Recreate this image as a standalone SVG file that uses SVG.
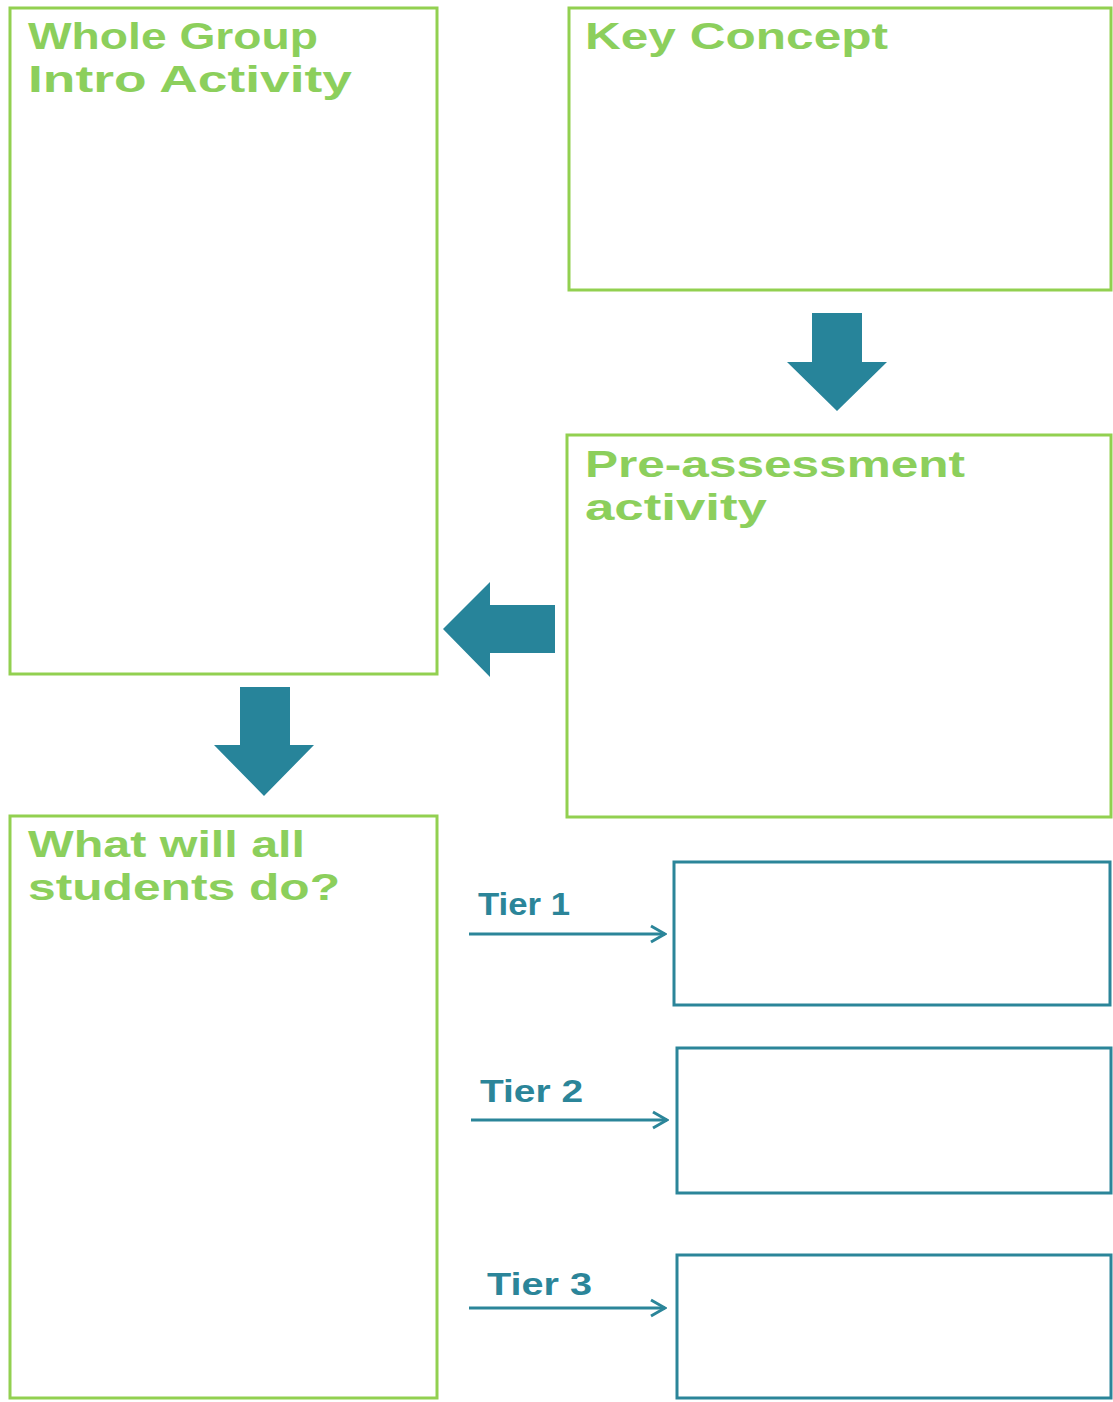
<svg xmlns="http://www.w3.org/2000/svg" width="1113" height="1402" viewBox="0 0 1113 1402">
<style>
.gbox{fill:#fff;stroke:#92d050;stroke-width:3}
.tbox{fill:#fff;stroke:#2b8599;stroke-width:3}
.gt{fill:#8ccf5c;font-family:"Liberation Sans",Arial,sans-serif;font-weight:bold;font-size:36px}
.tt{fill:#2b8599;font-family:"Liberation Sans",Arial,sans-serif;font-weight:bold;font-size:32px}
.big{fill:#27849a}
.ln{stroke:#2b8599;stroke-width:3;fill:none}
</style>
<defs>
<marker id="ah" viewBox="0 0 10 10" refX="9" refY="5" markerWidth="20" markerHeight="20" markerUnits="userSpaceOnUse" orient="auto">
<path d="M2,1 L9,5 L2,9" fill="none" stroke="#2b8599" stroke-width="1.5"/>
</marker>
</defs>
<rect width="1113" height="1402" fill="#fff"/>
<g id="whole-group">
<rect class="gbox" x="10" y="8" width="427" height="666"/>
<text class="gt" x="28" y="49" textLength="290" lengthAdjust="spacingAndGlyphs">Whole Group</text>
<text class="gt" x="28" y="92" textLength="324" lengthAdjust="spacingAndGlyphs">Intro Activity</text>
</g>
<g id="key-concept">
<rect class="gbox" x="569" y="8" width="542" height="282"/>
<text class="gt" x="585" y="49" textLength="303" lengthAdjust="spacingAndGlyphs">Key Concept</text>
</g>
<g id="pre-assessment">
<rect class="gbox" x="567" y="435" width="544" height="382"/>
<text class="gt" x="585" y="477" textLength="380" lengthAdjust="spacingAndGlyphs">Pre-assessment</text>
<text class="gt" x="585" y="520" textLength="182" lengthAdjust="spacingAndGlyphs">activity</text>
</g>
<g id="all-students">
<rect class="gbox" x="10" y="816" width="427" height="582"/>
<text class="gt" x="28" y="857" textLength="277" lengthAdjust="spacingAndGlyphs">What will all</text>
<text class="gt" x="28" y="900" textLength="312" lengthAdjust="spacingAndGlyphs">students do?</text>
</g>
<g id="tier1">
<rect class="tbox" x="674" y="862" width="436" height="143"/>
</g>
<g id="tier2">
<rect class="tbox" x="677" y="1048" width="434" height="145"/>
</g>
<g id="tier3">
<rect class="tbox" x="677" y="1255" width="434" height="143"/>
</g>
<g id="connectors">
<polygon class="big" points="812,313 862,313 862,362 887,362 837,411 787,362 812,362"/>
<polygon class="big" points="555,605 555,653 490,653 490,677 443,629 490,582 490,605"/>
<polygon class="big" points="240,687 290,687 290,745 314,745 264,796 214,745 240,745"/>
<line class="ln" x1="469" y1="934" x2="665" y2="934" marker-end="url(#ah)"/>
<line class="ln" x1="471" y1="1120" x2="667" y2="1120" marker-end="url(#ah)"/>
<line class="ln" x1="469" y1="1308" x2="665" y2="1308" marker-end="url(#ah)"/>
<text class="tt" x="478" y="915" textLength="92" lengthAdjust="spacingAndGlyphs">Tier 1</text>
<text class="tt" x="480" y="1102" textLength="103" lengthAdjust="spacingAndGlyphs">Tier 2</text>
<text class="tt" x="487" y="1295" textLength="105" lengthAdjust="spacingAndGlyphs">Tier 3</text>
</g>
</svg>
